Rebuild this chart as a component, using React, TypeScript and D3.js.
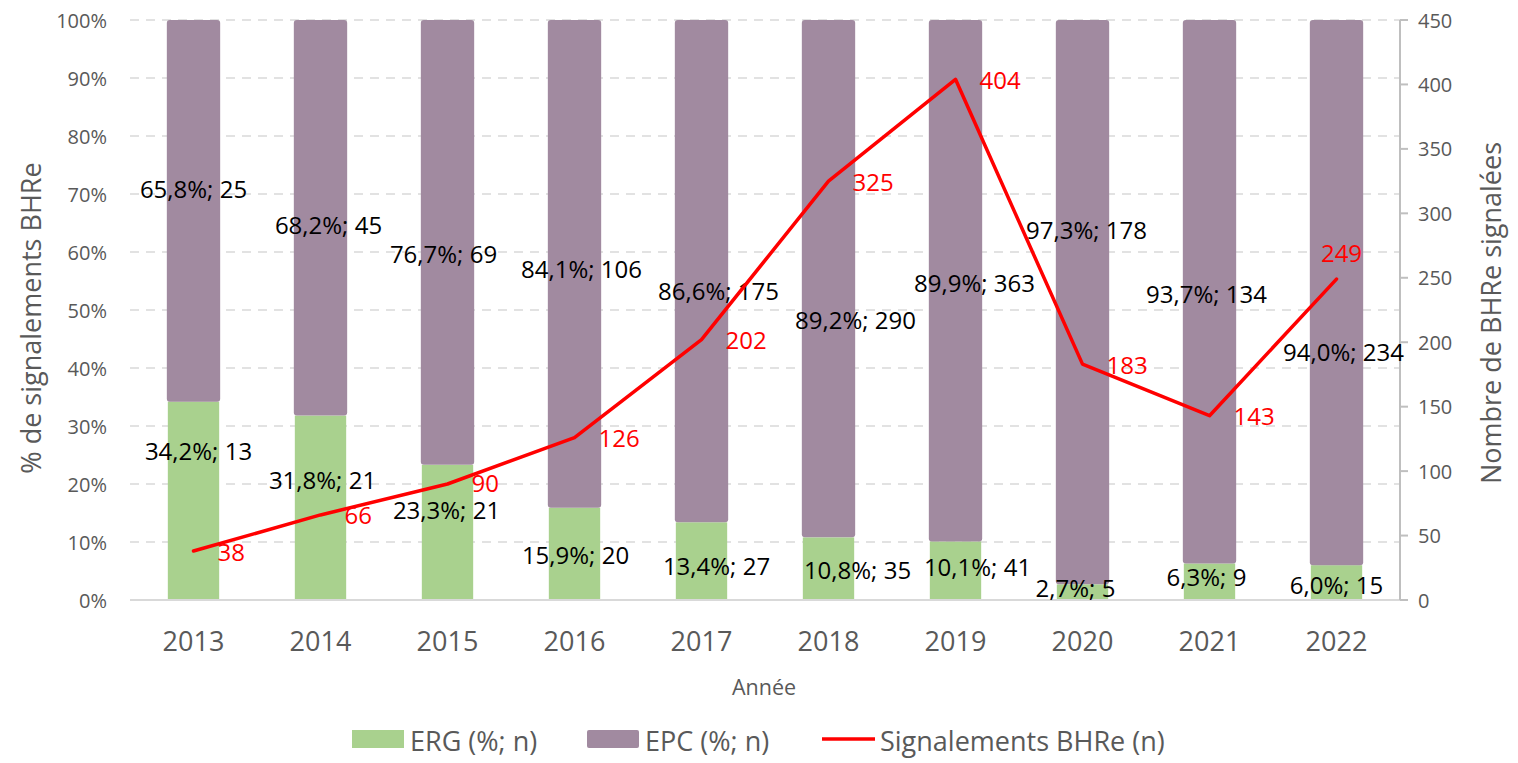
import React from "react";
import * as d3 from "d3";

const years = ["2013", "2014", "2015", "2016", "2017", "2018", "2019", "2020", "2021", "2022"];
const ergPct = [34.2, 31.8, 23.3, 15.9, 13.4, 10.8, 10.1, 2.7, 6.3, 6.0];
const ergN = [13, 21, 21, 20, 27, 35, 41, 5, 9, 15];
const epcPct = [65.8, 68.2, 76.7, 84.1, 86.6, 89.2, 89.9, 97.3, 93.7, 94.0];
const epcN = [25, 45, 69, 106, 175, 290, 363, 178, 134, 234];
const totalN = [38, 66, 90, 126, 202, 325, 404, 183, 143, 249];

// label anchors (in % axis units) as placed in the original chart
const ergLabelAt = [25.7, 20.7, 15.6, 7.8, 5.9, 5.2, 5.7, 2.2, 4.0, 2.6];
const epcLabelAt = [70.9, 64.7, 59.8, 57.2, 53.3, 48.3, 54.7, 63.8, 52.9, 42.9];
const ergLabelDx = [5, 2, -1, 1, 15, 29, 22, -7, -3, 0];
const epcLabelDx = [0, 8, -4, 7, 17, 27, 19, 4, -3, 7];

const leftTicks = [0, 10, 20, 30, 40, 50, 60, 70, 80, 90, 100];
const rightTicks = [0, 50, 100, 150, 200, 250, 300, 350, 400, 450];

const FONT = "'Open Sans', 'Noto Sans', sans-serif";
const GREEN = "#A9D18E";
const PURPLE = "#A18AA0";
const RED = "#FF0000";
const AXIS_TXT = "#595959";

const fmt = (v: number) => v.toFixed(1).replace(".", ",");

export default function App() {
  const W = 1518, H = 763;
  const left = 130, right = 1400, top = 20, bottom = 600;

  const x = d3.scaleBand<string>().domain(years).range([left, right]).paddingInner(0.58).paddingOuter(0.29);
  const yL = d3.scaleLinear().domain([0, 100]).range([bottom, top]);
  const yR = d3.scaleLinear().domain([0, 450]).range([bottom, top]);
  const bw = x.bandwidth();
  const cx = (y: string) => (x(y) as number) + bw / 2;

  const line = d3
    .line<number>()
    .x((_, i) => cx(years[i]))
    .y((d) => yR(d));

  return (
    <svg width={W} height={H} style={{ position: "absolute", left: 0, top: 0, fontFamily: FONT }}>
      <rect width={W} height={H} fill="#fff" />
      {/* gridlines */}
      {leftTicks.slice(1).map((t) => (
        <line key={t} x1={left} x2={right} y1={yL(t)} y2={yL(t)} stroke="#D9D9D9" strokeWidth={1.5} strokeDasharray="9 7" />
      ))}
      {/* left tick labels */}
      {leftTicks.map((t) => (
        <text key={t} x={107} y={yL(t)} textAnchor="end" dominantBaseline="central" fontSize={20} fill={AXIS_TXT}>
          {t}%
        </text>
      ))}
      {/* bars */}
      {years.map((yr, i) => (
        <g key={yr}>
          <rect x={(x(yr) as number) + 1} width={bw - 2} y={yL(ergPct[i])} height={yL(0) - yL(ergPct[i])} fill={GREEN} />
          <rect x={x(yr) as number} width={bw} y={yL(100)} height={yL(ergPct[i]) - yL(100)} fill={PURPLE} rx={3} />
        </g>
      ))}
      {/* bottom axis line */}
      <line x1={left} x2={right} y1={bottom} y2={bottom} stroke="#D9D9D9" strokeWidth={2} />
      {/* right axis */}
      <line x1={right} x2={right} y1={top} y2={bottom} stroke="#BFBFBF" strokeWidth={2} />
      {rightTicks.map((t) => (
        <g key={t}>
          <line x1={right} x2={right + 8} y1={yR(t)} y2={yR(t)} stroke="#BFBFBF" strokeWidth={2} />
          <text x={1418} y={yR(t)} dominantBaseline="central" fontSize={20} fill={AXIS_TXT}>
            {t}
          </text>
        </g>
      ))}
      {/* category labels */}
      {years.map((yr) => (
        <text key={yr} x={cx(yr)} y={640} textAnchor="middle" dominantBaseline="central" fontSize={27} fill={AXIS_TXT}>
          {yr}
        </text>
      ))}
      <text x={764} y={686} textAnchor="middle" dominantBaseline="central" fontSize={21.5} fill={AXIS_TXT}>
        Année
      </text>
      {/* axis titles */}
      <text transform={`translate(30, ${(top + bottom) / 2 + 8}) rotate(-90)`} textAnchor="middle" dominantBaseline="central" fontSize={27} fill={AXIS_TXT}>
        % de signalements BHRe
      </text>
      <text transform={`translate(1490, ${(top + bottom) / 2 + 3}) rotate(-90)`} textAnchor="middle" dominantBaseline="central" fontSize={27} fill={AXIS_TXT}>
        Nombre de BHRe signalées
      </text>
      {/* data labels */}
      {years.map((yr, i) => (
        <g key={yr} fontSize={24} fill="#000">
          <text x={cx(yr) + epcLabelDx[i]} y={yL(epcLabelAt[i])} textAnchor="middle" dominantBaseline="central">
            {fmt(epcPct[i])}%; {epcN[i]}
          </text>
          <text x={cx(yr) + ergLabelDx[i]} y={yL(ergLabelAt[i])} textAnchor="middle" dominantBaseline="central">
            {fmt(ergPct[i])}%; {ergN[i]}
          </text>
        </g>
      ))}
      {/* line */}
      <path d={line(totalN) as string} fill="none" stroke={RED} strokeWidth={3.5} strokeLinejoin="round" strokeLinecap="round" />
      {totalN.map((v, i) => {
        const last = i === totalN.length - 1;
        return (
          <text
            key={i}
            x={last ? cx(years[i]) + 5 : cx(years[i]) + 24}
            y={last ? yR(v) - 27 : yR(v) - (i === 2 ? 2 : 0)}
            textAnchor={last ? "middle" : "start"}
            dominantBaseline="central"
            fontSize={24}
            fill={RED}
          >
            {v}
          </text>
        );
      })}
      {/* legend */}
      <g fontSize={27} fill={AXIS_TXT}>
        <rect x={352} y={730} width={52} height={18} fill={GREEN} />
        <text x={410} y={740} dominantBaseline="central">ERG (%; n)</text>
        <rect x={587} y={730} width={52} height={18} fill={PURPLE} rx={2} />
        <text x={645} y={740} dominantBaseline="central">EPC (%; n)</text>
        <line x1={822} x2={875} y1={739} y2={739} stroke={RED} strokeWidth={3.5} />
        <text x={880} y={740} dominantBaseline="central">Signalements BHRe (n)</text>
      </g>
    </svg>
  );
}
